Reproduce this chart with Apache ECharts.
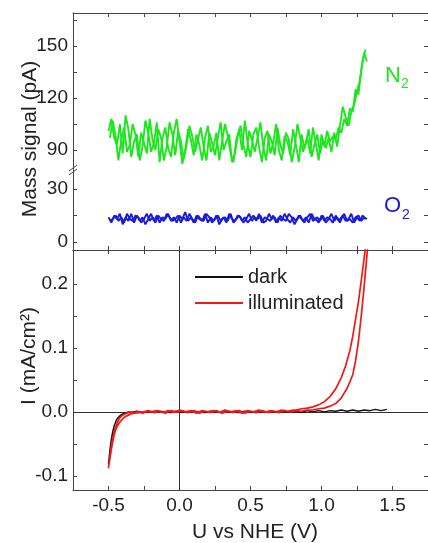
<!DOCTYPE html>
<html>
<head>
<meta charset="utf-8">
<script src="https://cdn.jsdelivr.net/npm/echarts@6/dist/echarts.min.js"></script>
<style>
  html, body { margin: 0; padding: 0; background: #fff; }
  #chart { width: 428px; height: 543px; }
</style>
</head>
<body>
<div id="chart"></div>
<script>
// potential scan used for the mass signals (V vs NHE), forward and back
const scanU = [
  -0.50, -0.48, -0.46, -0.44, -0.42, -0.40, -0.38, -0.36, -0.34, -0.32,
  -0.30, -0.28, -0.26, -0.24, -0.22, -0.20, -0.18, -0.16, -0.14, -0.12,
  -0.10, -0.08, -0.06, -0.04, -0.02, 0.00, 0.02, 0.04, 0.06, 0.08,
  0.10, 0.12, 0.14, 0.16, 0.18, 0.20, 0.22, 0.24, 0.26, 0.28,
  0.30, 0.32, 0.34, 0.36, 0.38, 0.40, 0.42, 0.44, 0.46, 0.48,
  0.50, 0.52, 0.54, 0.56, 0.58, 0.60, 0.62, 0.64, 0.66, 0.68,
  0.70, 0.72, 0.74, 0.76, 0.78, 0.80, 0.82, 0.84, 0.86, 0.88,
  0.90, 0.92, 0.94, 0.96, 0.98, 1.00, 1.02, 1.04, 1.06, 1.08,
  1.10, 1.12, 1.14, 1.16, 1.18, 1.20, 1.22, 1.24, 1.26, 1.28,
  1.30, 1.32
];
const returnU = [
  1.31, 1.29, 1.27, 1.25, 1.23, 1.21, 1.19, 1.17, 1.15, 1.13,
  1.11, 1.09, 1.07, 1.05, 1.03, 1.01, 0.99, 0.97, 0.95, 0.93,
  0.91, 0.89, 0.87, 0.85, 0.83, 0.81, 0.79, 0.77, 0.75, 0.73,
  0.71, 0.69, 0.67, 0.65, 0.63, 0.61, 0.59, 0.57, 0.55, 0.53,
  0.51, 0.49, 0.47, 0.45, 0.43, 0.41, 0.39, 0.37, 0.35, 0.33,
  0.31, 0.29, 0.27, 0.25, 0.23, 0.21, 0.19, 0.17, 0.15, 0.13,
  0.11, 0.09, 0.07, 0.05, 0.03, 0.01, -0.01, -0.03, -0.05, -0.07,
  -0.09, -0.11, -0.13, -0.15, -0.17, -0.19, -0.21, -0.23, -0.25, -0.27,
  -0.29, -0.31, -0.33, -0.35, -0.37, -0.39, -0.41, -0.43, -0.45, -0.47,
  -0.49
];
const n2Signal = [
  101, 108, 97, 93, 105, 88, 110, 102, 86, 95,
  99, 84, 92, 107, 100, 89, 94, 106, 83, 97,
  103, 91, 86, 100, 108, 95, 82, 90, 102, 96,
  87, 99, 93, 84, 97, 104, 89, 92, 100, 84,
  95, 105, 98, 88, 83, 96, 102, 90, 107, 94,
  86, 99, 103, 92, 83, 97, 101, 88, 94, 105,
  90, 84, 98, 95, 87, 102, 93, 83, 99, 91,
  97, 88, 103, 94, 84, 99, 92, 101, 95, 98,
  96, 103, 100, 108, 104, 114, 112, 125, 122, 136,
  146, 141
];
const n2ReturnSignal = [
  148, 142, 130, 124, 116, 112, 104, 109, 115, 104,
  92, 100, 89, 97, 91, 96, 88, 99, 93, 86,
  102, 94, 89, 97, 105, 91, 83, 96, 100, 88,
  93, 103, 87, 95, 99, 84, 92, 106, 97, 89,
  96, 101, 86, 93, 104, 98, 88, 83, 99, 95,
  90, 106, 97, 87, 94, 100, 84, 92, 103, 96,
  89, 98, 104, 93, 85, 95, 101, 87, 99, 106,
  92, 84, 97, 102, 90, 96, 108, 88, 94, 100,
  86, 99, 105, 93, 89, 103, 96, 84, 98, 107,
  97
];
const o2Signal = [
  14, 11, 15, 13, 16, 10, 14, 12, 16, 11,
  15, 12, 14, 10, 13, 16, 12, 15, 11, 14,
  13, 16, 12, 14, 11, 15, 13, 17, 12, 14,
  11, 15, 13, 12, 16, 11, 14, 12, 15, 10,
  13, 14, 12, 16, 11, 13, 15, 12, 14, 11,
  13, 15, 12, 16, 11, 14, 13, 12, 15, 11,
  14, 12, 16, 13, 11, 14, 12, 15, 13, 11,
  14, 16, 12, 13, 11, 15, 12, 14, 13, 11,
  15, 12, 14, 16, 12, 13, 11, 14, 15, 12,
  14, 13
];
const o2ReturnSignal = [
  13, 15, 12, 14, 11, 16, 13, 12, 15, 11,
  14, 12, 16, 13, 11, 15, 12, 14, 13, 16,
  11, 14, 12, 15, 13, 10, 14, 16, 12, 13,
  15, 11, 14, 13, 16, 12, 11, 15, 13, 14,
  12, 16, 13, 11, 14, 15, 12, 13, 16, 11,
  14, 12, 15, 13, 11, 14, 16, 12, 13, 15,
  11, 13, 16, 12, 14, 11, 15, 13, 12, 14,
  16, 12, 13, 15, 11, 14, 12, 16, 13, 11,
  14, 15, 12, 13, 16, 11, 14, 12, 15, 13,
  12
];

// current density (mA/cm2)
const darkU = [
  -0.50, -0.49, -0.48, -0.47, -0.46, -0.45, -0.44, -0.42, -0.40, -0.38, -0.36, -0.34, -0.30,
  -0.26, -0.22, -0.18, -0.14, -0.10, -0.06, -0.02, 0.02, 0.06, 0.10,
  0.14, 0.18, 0.22, 0.26, 0.30, 0.34, 0.38, 0.42, 0.46, 0.50,
  0.54, 0.58, 0.62, 0.66, 0.70, 0.74, 0.78, 0.82, 0.86, 0.90,
  0.94, 0.98, 1.02, 1.06, 1.10, 1.14, 1.18, 1.22, 1.26, 1.30,
  1.34, 1.38, 1.42, 1.46
];
const darkI = [
  -0.082, -0.060, -0.043, -0.031, -0.022, -0.016, -0.011, -0.006, -0.003, -0.002, 0.000, -0.001, 0.001,
  -0.001, 0.001, -0.001, 0.001, 0.000, -0.001, 0.001, 0.000, -0.001, 0.001,
  0.000, -0.001, 0.001, 0.000, -0.001, 0.001, 0.000, -0.001, 0.001, 0.000,
  -0.001, 0.001, 0.000, 0.001, -0.001, 0.001, 0.000, 0.001, -0.001, 0.002,
  0.000, 0.002, 0.000, 0.002, 0.001, 0.003, 0.001, 0.003, 0.001, 0.003,
  0.002, 0.004, 0.002, 0.004
];
const illumFwdU = [
  -0.50, -0.49, -0.48, -0.47, -0.46, -0.45, -0.44, -0.43, -0.42, -0.40, -0.38, -0.36, -0.34, -0.32, -0.30,
  -0.26, -0.22, -0.18, -0.14, -0.10, -0.06, -0.02, 0.02, 0.06, 0.10, 0.14, 0.18, 0.22, 0.26,
  0.30, 0.34, 0.38, 0.42, 0.46, 0.50, 0.54, 0.58, 0.62, 0.66, 0.70, 0.74, 0.78,
  0.82, 0.86, 0.90, 0.94, 0.98, 1.02, 1.06, 1.10, 1.14, 1.18, 1.20, 1.22, 1.24, 1.26, 1.28, 1.30, 1.32, 1.34
];
const illumFwdI = [
  -0.088, -0.070, -0.053, -0.041, -0.031, -0.024, -0.018, -0.013, -0.009, -0.005, -0.003, -0.001, 0.000, -0.002, 0.001,
  -0.002, 0.002, -0.001, 0.001, -0.002, 0.002, 0.000, 0.002, -0.001, 0.002, -0.002, 0.001, -0.001, 0.002,
  -0.002, 0.001, -0.001, 0.002, -0.002, 0.001, -0.001, 0.002, -0.001, 0.001, -0.001, 0.002, 0.000,
  0.002, 0.001, 0.003, 0.003, 0.005, 0.006, 0.009, 0.013, 0.022, 0.037, 0.047, 0.058, 0.080, 0.110, 0.150, 0.195, 0.245, 0.300
];
const illumRevU = [
  1.34, 1.32, 1.30, 1.28, 1.26, 1.24, 1.22, 1.20, 1.17, 1.14, 1.10, 1.06, 1.02, 0.98, 0.94, 0.90, 0.86, 0.82,
  0.80, 0.76, 0.72, 0.68, 0.64, 0.60, 0.56, 0.52, 0.48, 0.44, 0.40, 0.36, 0.32, 0.28,
  0.24, 0.20, 0.16, 0.12, 0.08, 0.04, 0.00, -0.04, -0.08, -0.12, -0.16, -0.20, -0.24, -0.28,
  -0.32, -0.34, -0.36, -0.38, -0.40, -0.42, -0.44, -0.45, -0.46, -0.47, -0.48, -0.49, -0.50
];
const illumRevI = [
  0.300, 0.275, 0.240, 0.205, 0.172, 0.145, 0.118, 0.096, 0.072, 0.054, 0.036, 0.024, 0.016, 0.011, 0.008, 0.006, 0.005, 0.003,
  0.003, 0.001, 0.003, 0.000, 0.002, -0.001, 0.003, 0.000, 0.002, -0.002, 0.002, 0.000, 0.003, -0.001,
  0.002, 0.000, 0.002, -0.002, 0.002, 0.000, 0.003, -0.001, 0.002, -0.001, 0.002, 0.000, 0.001, -0.001,
  -0.002, -0.003, -0.005, -0.007, -0.011, -0.016, -0.023, -0.028, -0.036, -0.046, -0.059, -0.073, -0.086
];

// ticks and labels
const uTicks = [-0.5, -0.25, 0, 0.25, 0.5, 0.75, 1, 1.25, 1.5];
const uLabels = [-0.5, 0, 0.5, 1, 1.5];
const n2Ticks = [90, 105, 120, 135, 150, 165];
const n2Labels = [90, 120, 150];
const o2Ticks = [0, 15, 30];
const o2Labels = [0, 30];
const currentTicks = [-0.1, -0.05, 0, 0.05, 0.1, 0.15, 0.2];
const currentLabels = [-0.1, 0, 0.1, 0.2];

const pairs = (xs, ys) => xs.map((x, i) => [x, ys[i]]);

const font = 'Liberation Sans, Arial, sans-serif';
const axisColor = '#444';
const textColor = '#222';
const green = '#1ee61e';
const blue = '#1a1ad8';

function xAxisFor(gridIndex, position, withLabels) {
  return {
    type: 'value', gridIndex: gridIndex, position: position,
    min: -0.75, max: 1.75,
    axisLine: { show: true, onZero: false, lineStyle: { color: axisColor, width: 1 } },
    axisTick: { show: true, inside: true, length: 4, customValues: uTicks, lineStyle: { color: axisColor } },
    axisLabel: {
      show: withLabels, customValues: uLabels, margin: 6,
      fontSize: 19, color: textColor, fontFamily: font,
      formatter: v => v.toFixed(1)
    },
    splitLine: { show: false }
  };
}

function yAxisFor(gridIndex, position, min, max, ticks, labels, formatter) {
  return {
    type: 'value', gridIndex: gridIndex, position: position,
    min: min, max: max,
    axisLine: { show: true, onZero: false, lineStyle: { color: axisColor, width: 1 } },
    axisTick: { show: true, inside: true, length: 4, customValues: ticks, lineStyle: { color: axisColor } },
    axisLabel: {
      show: position === 'left', customValues: labels, margin: 5,
      fontSize: 19, color: textColor, fontFamily: font,
      formatter: formatter
    },
    splitLine: { show: false }
  };
}

function massLine(name, xIdx, yIdx, color, data) {
  return {
    name: name, type: 'line', xAxisIndex: xIdx, yAxisIndex: yIdx,
    symbol: 'none', lineStyle: { color: color, width: 1.9 },
    data: data
  };
}

const chart = echarts.init(document.getElementById('chart'));
const option = {
  animation: false,
  textStyle: { fontFamily: font },
  grid: [
    { left: 73, top: 13, width: 356, height: 157 },
    { left: 73, top: 170, width: 356, height: 80 },
    { left: 73, top: 250, width: 356, height: 240 }
  ],
  xAxis: [
    xAxisFor(0, 'top', false),
    xAxisFor(1, 'bottom', false),
    xAxisFor(2, 'bottom', true),
    xAxisFor(2, 'top', false)
  ],
  yAxis: [
    yAxisFor(0, 'left', 78.5, 169, n2Ticks, n2Labels, v => String(v)),
    yAxisFor(0, 'right', 78.5, 169, n2Ticks, n2Labels, v => String(v)),
    yAxisFor(1, 'left', -4.5, 40.75, o2Ticks, o2Labels, v => String(v)),
    yAxisFor(1, 'right', -4.5, 40.75, o2Ticks, o2Labels, v => String(v)),
    yAxisFor(2, 'left', -0.122, 0.253, currentTicks, currentLabels, v => v.toFixed(1)),
    yAxisFor(2, 'right', -0.122, 0.253, currentTicks, currentLabels, v => v.toFixed(1))
  ],
  legend: {
    data: ['dark', 'illuminated'],
    orient: 'vertical',
    left: 195, top: 267,
    icon: 'rect',
    itemWidth: 48, itemHeight: 2, itemGap: 6,
    padding: 0,
    textStyle: { fontSize: 20, color: textColor, fontFamily: font }
  },
  series: [
    massLine('N2', 0, 0, green, pairs(scanU, n2Signal)),
    massLine('N2 return', 0, 0, green, pairs(returnU, n2ReturnSignal)),
    massLine('O2', 1, 2, blue, pairs(scanU, o2Signal)),
    massLine('O2 return', 1, 2, blue, pairs(returnU, o2ReturnSignal)),
    {
      name: 'dark', type: 'line', xAxisIndex: 2, yAxisIndex: 4,
      symbol: 'none', color: '#111', lineStyle: { color: '#111', width: 1.5 },
      data: pairs(darkU, darkI),
      markLine: {
        silent: true, symbol: 'none', z: 1,
        label: { show: false },
        lineStyle: { color: '#333', type: 'solid', width: 1 },
        data: [{ xAxis: 0 }, { yAxis: 0 }]
      }
    },
    {
      name: 'illuminated', type: 'line', xAxisIndex: 2, yAxisIndex: 4, z: 3,
      symbol: 'none', color: '#f01818', lineStyle: { color: '#f01818', width: 1.7 },
      data: pairs(illumFwdU.concat(illumRevU), illumFwdI.concat(illumRevI))
    }
  ],
  graphic: [
    {
      type: 'text', x: 30, y: 139, rotation: Math.PI / 2,
      style: { text: 'Mass signal (pA)', font: '21px ' + font, fill: textColor, align: 'center', verticalAlign: 'middle' }
    },
    {
      type: 'text', x: 29, y: 356, rotation: Math.PI / 2,
      style: { text: 'I (mA/cm²)', font: '21px ' + font, fill: textColor, align: 'center', verticalAlign: 'middle' }
    },
    {
      type: 'text', x: 255, y: 532,
      style: { text: 'U vs NHE (V)', font: '21px ' + font, fill: textColor, align: 'center', verticalAlign: 'middle' }
    },
    { type: 'text', x: 385, y: 76, style: { text: 'N', font: '22px ' + font, fill: green, align: 'left', verticalAlign: 'middle' } },
    { type: 'text', x: 401, y: 84, style: { text: '2', font: '14px ' + font, fill: green, align: 'left', verticalAlign: 'middle' } },
    { type: 'text', x: 384, y: 206, style: { text: 'O', font: '22px ' + font, fill: blue, align: 'left', verticalAlign: 'middle' } },
    { type: 'text', x: 402, y: 215, style: { text: '2', font: '14px ' + font, fill: blue, align: 'left', verticalAlign: 'middle' } },
    { type: 'line', shape: { x1: 69, y1: 171, x2: 77, y2: 165 }, style: { stroke: axisColor, lineWidth: 1 } },
    { type: 'line', shape: { x1: 69, y1: 175, x2: 77, y2: 169 }, style: { stroke: axisColor, lineWidth: 1 } }
  ]
};
chart.setOption(option);
</script>
</body>
</html>
